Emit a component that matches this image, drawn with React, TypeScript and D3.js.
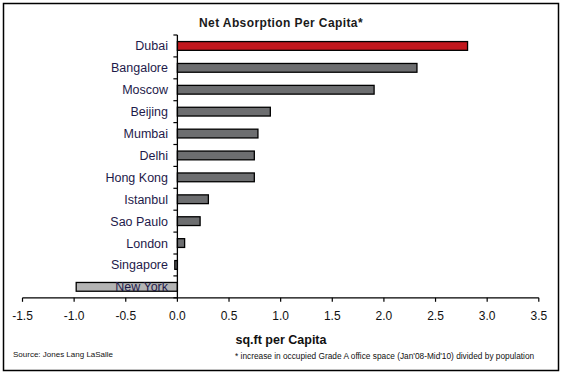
import React from "react";
import * as d3 from "d3";

const cities = ["Dubai", "Bangalore", "Moscow", "Beijing", "Mumbai", "Delhi", "Hong Kong", "Istanbul", "Sao Paulo", "London", "Singapore", "New York"];
const values = [2.81, 2.32, 1.905, 0.9, 0.78, 0.745, 0.745, 0.3, 0.22, 0.07, -0.025, -0.98];
const xTicks = [-1.5, -1.0, -0.5, 0.0, 0.5, 1.0, 1.5, 2.0, 2.5, 3.0, 3.5];

const W = 567, H = 377;
const left = 22.5, right = 538.8, top = 35, bottom = 297.8;

export default function App() {
  const x = d3.scaleLinear().domain([-1.5, 3.5]).range([left, right]);
  const y = d3.scaleBand<string>().domain(cities).range([top, bottom]).paddingInner(0.6).paddingOuter(0.3);
  const step = y.step();
  const x0 = x(0);
  const colorFor = (c: string) => (c === "Dubai" ? "#c1171d" : c === "New York" ? "#b4b4b4" : "#6d6e70");
  const font = "Arial, 'Liberation Sans', sans-serif";
  return (
    <svg width={W} height={H} style={{ position: "absolute", left: 0, top: 0 }} fontFamily={font}>
      <rect x={0} y={0} width={W} height={H} fill="#fff" />
      <rect x={3.5} y={3.5} width={555} height={367} fill="none" stroke="#000" strokeWidth={1.5} />
      <text x={281} y={27} textAnchor="middle" fontSize={12} fontWeight="bold" letterSpacing={0.4} fill="#1a1a1a">
        Net Absorption Per Capita*
      </text>
      {cities.map((c, i) => {
        const v = values[i];
        const bx = Math.min(x(v), x0);
        const bw = Math.abs(x(v) - x0);
        return (
          <rect key={c} x={bx} y={y(c)!} width={bw} height={y.bandwidth()} fill={colorFor(c)} stroke="#000" strokeWidth={1.3} />
        );
      })}
      {cities.map((c) => (
        <text key={c} x={168} y={y(c)! + y.bandwidth() / 2 + 4.5} textAnchor="end" fontSize={12.5} fill="#1e1a4a">
          {c}
        </text>
      ))}
      {/* y axis */}
      <line x1={x0} x2={x0} y1={top} y2={bottom} stroke="#000" strokeWidth={1.3} />
      {d3.range(cities.length + 1).map((i) => (
        <line key={i} x1={x0 - 4} x2={x0} y1={top + i * step} y2={top + i * step} stroke="#000" strokeWidth={1.2} />
      ))}
      {/* x axis */}
      <line x1={left} x2={right} y1={bottom} y2={bottom} stroke="#000" strokeWidth={1.3} />
      {xTicks.map((t) => (
        <g key={t}>
          <line x1={x(t)} x2={x(t)} y1={bottom} y2={bottom + 4} stroke="#000" strokeWidth={1.2} />
          <text x={x(t)} y={bottom + 22} textAnchor="middle" fontSize={12} fill="#111">
            {t.toFixed(1)}
          </text>
        </g>
      ))}
      <text x={281} y={344} textAnchor="middle" fontSize={12.5} fontWeight="bold" fill="#111">
        sq.ft per Capita
      </text>
      <text x={13} y={357} fontSize={8} fill="#111">
        Source: Jones Lang LaSalle
      </text>
      <text x={235} y={359} fontSize={8.3} fill="#111">
        * increase in occupied Grade A office space (Jan'08-Mid'10) divided by population
      </text>
    </svg>
  );
}
